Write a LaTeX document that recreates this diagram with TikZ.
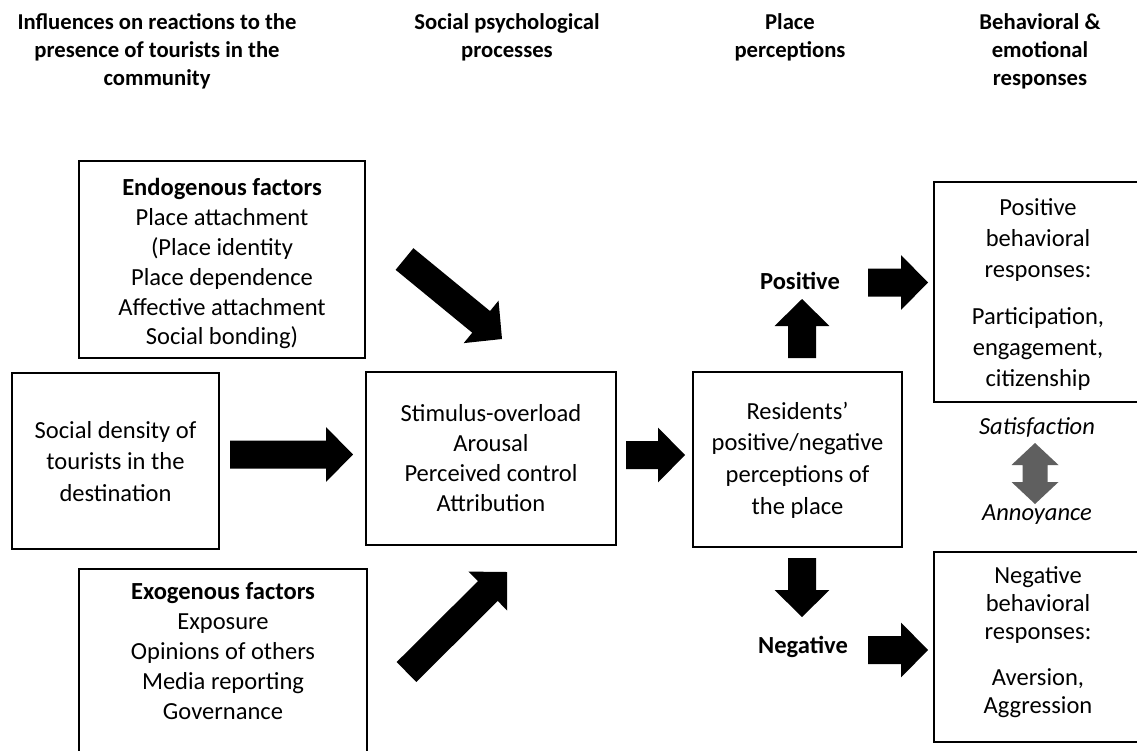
\documentclass[tikz,border=0pt]{standalone}
\usepackage{fontspec}
\setmainfont{Carlito}
\usetikzlibrary{calc}
\definecolor{dgray}{RGB}{95,95,95}
\newcommand{\fatarrow}[2]{%
  \coordinate (fa-b) at ($(#2)!20.25pt!(#1)$);
  \fill[black] ($(#1)!10.5pt!90:(#2)$) -- ($(fa-b)!10.5pt!90:(#2)$) -- ($(fa-b)!20.6pt!90:(#2)$) -- (#2)
    -- ($(fa-b)!20.6pt!-90:(#2)$) -- ($(fa-b)!10.5pt!-90:(#2)$) -- ($(#1)!10.5pt!-90:(#2)$) -- cycle;}
\begin{document}
\begin{tikzpicture}[x=0.75pt,y=-0.75pt,
  box/.style={draw=black, line width=1.4pt, inner sep=0pt},
  txt/.style={align=center, inner sep=0pt, font=\fontsize{18.4pt}{#1}\selectfont},
  txt/.default=22.8pt,
  hdr/.style={align=center, inner sep=0pt, font=\bfseries\fontsize{17pt}{21pt}\selectfont},
  lbl/.style={inner sep=0pt, font=\fontsize{18.4pt}{22pt}\selectfont}]
\useasboundingbox (0,0) rectangle (1137,750);
\clip (0,0) rectangle (1137,750);
\fill[white] (0,0) rectangle (1137,750);

% headers
\node[hdr] (h1) at (157,52) {\strut Influences on reactions to the\\presence of tourists in the\\community\strut};
\node[hdr] (h2) at (507,38) {\strut Social psychological\\processes\strut};
\node[hdr] (h3) at (790,38) {\strut Place\\perceptions\strut};
\node[hdr] (h4) at (1040,52) {\strut Behavioral \&\\emotional\\responses\strut};

% boxes
\node[box, minimum width=214.5pt, minimum height=147.75pt] (endo) at (222,259.5) {};
\node[box, minimum width=155.25pt, minimum height=132pt] (dens) at (115.5,461) {};
\node[box, minimum width=216pt, minimum height=150.75pt] (exo) at (223,669.5) {};
\node[box, minimum width=187.5pt, minimum height=129.75pt] (proc) at (491,458.5) {};
\node[box, minimum width=156.75pt, minimum height=131.25pt] (res) at (797.5,459.5) {};
\node[box, minimum width=169.5pt, minimum height=165pt] (pos) at (1047,292) {};
\node[box, minimum width=169.5pt, minimum height=142.5pt] (neg) at (1047,647) {};

% box texts
\node[txt=22.35pt] (endot) at (222,264.5) {\strut\textbf{Endogenous factors}\\Place attachment\\(Place identity\\Place dependence\\Affective attachment\\Social bonding)\strut};
\node[txt=23.6pt] (denst) at (115.5,463.5) {\strut Social density of\\tourists in the\\destination\strut};
\node[txt=22.5pt] (exot) at (223,653) {\strut\textbf{Exogenous factors}\\Exposure\\Opinions of others\\Media reporting\\Governance\strut};
\node[txt=22.5pt] (proct) at (491,460) {\strut Stimulus-overload\\Arousal\\Perceived control\\Attribution\strut};
\node[txt=23.8pt] (rest) at (797.5,460.5) {\strut Residents’\\positive/negative\\perceptions of\\the place\strut};
\node[txt=23.25pt] (post) at (1038,294.5) {\strut Positive\\behavioral\\responses:\\[12pt]Participation,\\engagement,\\citizenship\strut};
\node[txt=21pt] (negt) at (1038,643) {\strut Negative\\behavioral\\responses:\\[14pt]Aversion,\\Aggression\strut};

% labels
\node[lbl, font=\bfseries\fontsize{18.4pt}{22pt}\selectfont] (plbl) at (800,281) {Positive};
\node[lbl, font=\bfseries\fontsize{18.4pt}{22pt}\selectfont] (nlbl) at (803,647) {Negative};
\node[lbl, font=\itshape\fontsize{18.4pt}{22pt}\selectfont] (sat) at (1037,427) {Satisfaction};
\node[lbl, font=\itshape\fontsize{18.4pt}{22pt}\selectfont] (ann) at (1037,515) {Annoyance};

% arrow end points
\coordinate (a1s) at (230,454.5);   \coordinate (a1e) at (353,454.5);
\coordinate (a2s) at (404.5,259);   \coordinate (a2e) at (502,339);
\coordinate (a3s) at (406.5,672);   \coordinate (a3e) at (507,572);
\coordinate (a4s) at (626,455);     \coordinate (a4e) at (685,455);
\coordinate (a5s) at (802,358);     \coordinate (a5e) at (802,299);
\coordinate (a6s) at (802,558);     \coordinate (a6e) at (802,617);
\coordinate (a7s) at (868,282.5);   \coordinate (a7e) at (928,282.5);
\coordinate (a8s) at (868,650);     \coordinate (a8e) at (928,650);

\fatarrow{a1s}{a1e}
\fatarrow{a2s}{a2e}
\fatarrow{a3s}{a3e}
\fatarrow{a4s}{a4e}
\fatarrow{a5s}{a5e}
\fatarrow{a6s}{a6e}
\fatarrow{a7s}{a7e}
\fatarrow{a8s}{a8e}

% double gray arrow
\coordinate (dt) at (1035,443);
\coordinate (db) at (1035,504);
\fill[dgray] (dt) -- ++(23.5,22) -- ++(-11,0) -- ++(0,17) -- ++(11,0) -- (db)
  -- ++(-23.5,-22) -- ++(11,0) -- ++(0,-17) -- ++(-11,0) -- cycle;
\end{tikzpicture}
\end{document}
